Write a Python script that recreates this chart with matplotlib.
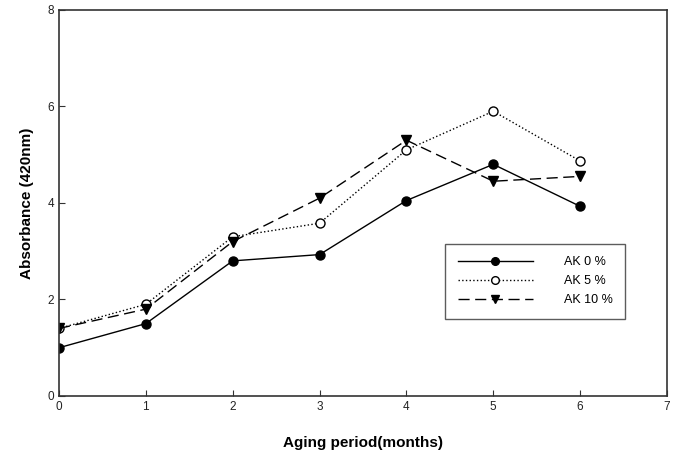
import matplotlib.pyplot as plt

plt.rcParams['font.family'] = ['Liberation Sans', 'DejaVu Sans']

months = [0, 1, 2, 3, 4, 5, 6]
ak0 = [1.0, 1.5, 2.8, 2.93, 4.05, 4.8, 3.93]
ak5 = [1.4, 1.9, 3.3, 3.58, 5.1, 5.9, 4.87]
ak10 = [1.4, 1.8, 3.2, 4.1, 5.3, 4.45, 4.55]

fig = plt.figure(figsize=(6.82, 4.5), dpi=100)
ax = fig.add_axes([0.0865, 0.12, 0.8915, 0.858])

ax.plot(months, ak0, '-', color='black', lw=1, marker='o', ms=6.5,
        mfc='black', label='AK 0 %')
ax.plot(months, ak5, ':', color='black', lw=1, marker='o', ms=6.5,
        mfc='white', label='AK 5 %')
ax.plot(months, ak10, '--', color='black', lw=1, marker='v', ms=6.5,
        mfc='black', dashes=(8, 4), label='AK 10 %')

ax.set_xlim(0, 7)
ax.set_ylim(0, 8)
ax.set_xticks(range(8))
ax.set_yticks([0, 2, 4, 6, 8])
ax.tick_params(direction='in', length=4, labelsize=8.5, color='#333333',
               labelcolor='#222222')
for s in ax.spines.values():
    s.set_linewidth(1.2)
    s.set_color('#333333')

ax.set_ylabel('Absorbance (420nm)', fontsize=11, fontweight='bold', labelpad=10)
ax.set_xlabel('Aging period(months)', fontsize=11, fontweight='bold', labelpad=17)

leg = ax.legend(loc='upper left', bbox_to_anchor=(0.635, 0.394), fontsize=9,
                frameon=True, fancybox=False, edgecolor='#333333',
                handlelength=6, handletextpad=2.5, borderpad=1.0,
                labelspacing=0.55, borderaxespad=0, markerscale=0.85)
leg.get_frame().set_linewidth(1)

fig.savefig('out.png', dpi=100)
